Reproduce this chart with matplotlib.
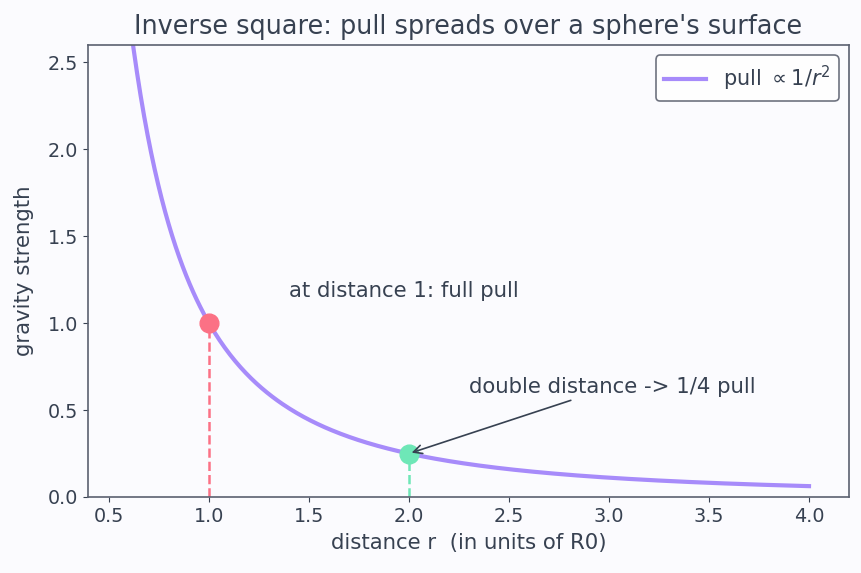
import numpy as np
import matplotlib.pyplot as plt

# Datos del gráfico
r = np.linspace(0.5, 4.0, 400)  # distancias
pull = 1 / r**2  # ley del inverso del cuadrado
r_marks = [1.0, 2.0]
pull_marks = [1.0, 0.25]
mark_colors = ['#fb7185', '#6ee7b7']

text_color = '#374151'
bg = '#fbfbfe'

plt.rcParams['font.family'] = ['DejaVu Sans']
fig = plt.figure(figsize=(8.62, 5.73), dpi=100, facecolor=bg)
ax = fig.add_axes([88 / 862, 1 - 497 / 573, 761 / 862, 452 / 573])
ax.set_facecolor(bg)

ax.plot(r, pull, color='#a78bfa', lw=3, label=r'pull $\propto 1/r^2$', zorder=2)

for x, y, c in zip(r_marks, pull_marks, mark_colors):
    ax.plot([x, x], [0, y], ls='--', color=c, lw=1.8, zorder=1)
    ax.plot(x, y, 'o', color=c, ms=13.5, zorder=3)

ax.text(1.4, 1.15, 'at distance 1: full pull', fontsize=15.3, color=text_color)
ax.annotate('double distance -> 1/4 pull', xy=(r_marks[1], pull_marks[1]), xytext=(2.3, 0.6),
            fontsize=15.3, color=text_color,
            arrowprops=dict(arrowstyle='->', color=text_color, lw=1.2))

ax.set_xlim(0.395, 4.2)
ax.set_ylim(0, 2.6)
ax.set_xticks(np.arange(0.5, 4.01, 0.5))
ax.set_yticks(np.arange(0, 2.51, 0.5))
ax.set_title("Inverse square: pull spreads over a sphere's surface", fontsize=18.4, color=text_color, pad=8)
ax.set_xlabel('distance r  (in units of R0)', fontsize=15.3, color=text_color, labelpad=5)
ax.set_ylabel('gravity strength', fontsize=15.3, color=text_color, labelpad=10)
ax.tick_params(labelsize=13.8, colors=text_color)
for s in ax.spines.values():
    s.set_color('#5b6170')
    s.set_linewidth(1.2)

leg = ax.legend(loc='upper right', fontsize=15, frameon=True, labelcolor=text_color)
leg.get_frame().set_edgecolor('#4b5060')
leg.get_frame().set_linewidth(1.2)
leg.get_frame().set_facecolor('white')

fig.savefig('out.png', dpi=100, facecolor=bg)
